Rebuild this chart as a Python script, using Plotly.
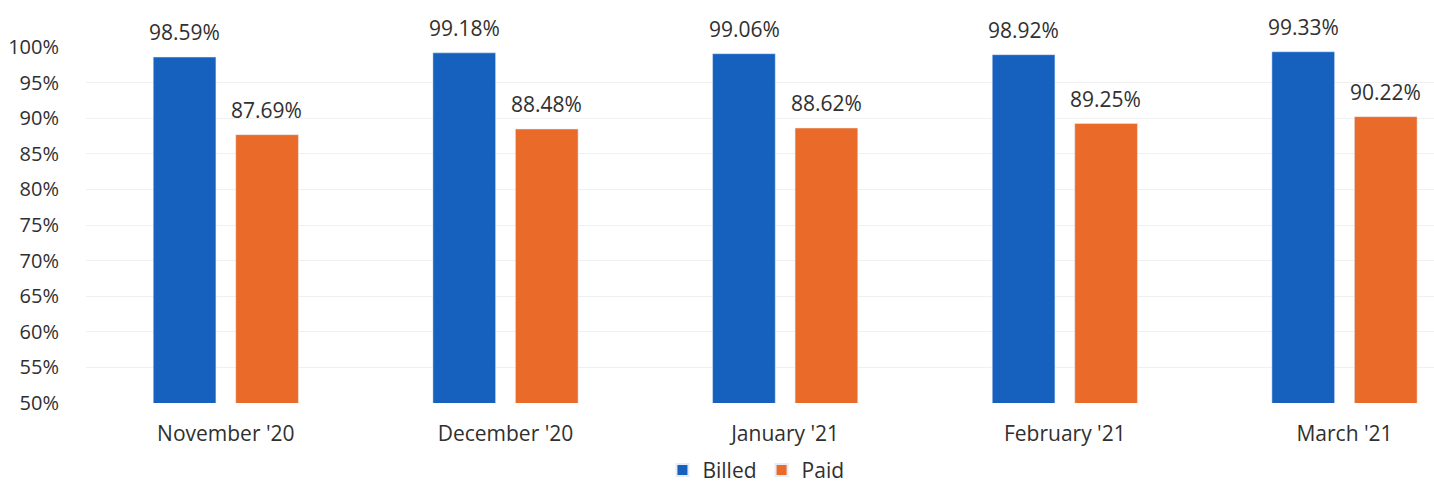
import plotly.graph_objects as go

categories = ["November '20", "December '20", "January '21", "February '21", "March '21"]
billed = [98.59, 99.18, 99.06, 98.92, 99.33]
paid = [87.69, 88.48, 88.62, 89.25, 90.22]
tick_vals = [50, 55, 60, 65, 70, 75, 80, 85, 90, 95, 100]
tick_text = [f"{v}%" for v in tick_vals]

BLUE = "#1660BE"
ORANGE = "#EA6A2A"
TXT = "#303030"
FONT = "Open Sans"

fig = go.Figure()
fig.add_trace(go.Bar(name="Billed", x=categories, y=billed, marker_color=BLUE))
fig.add_trace(go.Bar(name="Paid", x=categories, y=paid, marker_color=ORANGE))

# data labels placed above each bar
for series, shift in ((billed, -41), (paid, 41)):
    for c, v in zip(categories, series):
        fig.add_annotation(x=c, y=v, text=f"{v:.2f}%", showarrow=False,
                           xshift=shift, yshift=9, yanchor="bottom",
                           font=dict(size=21, color=TXT, family=FONT))

fig.update_layout(
    width=1434, height=485,
    margin=dict(l=86, r=0, t=47, b=82, autoexpand=False),
    paper_bgcolor="white", plot_bgcolor="white",
    font=dict(family=FONT, size=20, color=TXT),
    barmode="group", bargap=0.41, bargroupgap=0.24,
    legend=dict(orientation="h", x=0.497, xanchor="center",
                yref="container", y=0.03, yanchor="middle",
                font=dict(size=21, color=TXT), itemsizing="constant",
                itemwidth=30),
    showlegend=True,
)
fig.update_xaxes(range=[-0.5, 4.32], showline=False, ticks="", showgrid=False,
                 automargin=False, ticklabelstandoff=16,
                 tickfont=dict(size=21, color=TXT))
fig.update_yaxes(range=[50, 100], tickvals=tick_vals, ticktext=tick_text,
                 showgrid=True, gridcolor="#f0f0f0", zeroline=False,
                 showline=False, ticks="", ticklabelstandoff=26, automargin=False,
                 tickfont=dict(size=20, color=TXT))

fig.write_html("out.html", config={"displayModeBar": False},
               post_script="document.body.style.margin='0';document.body.style.overflow='hidden';")
